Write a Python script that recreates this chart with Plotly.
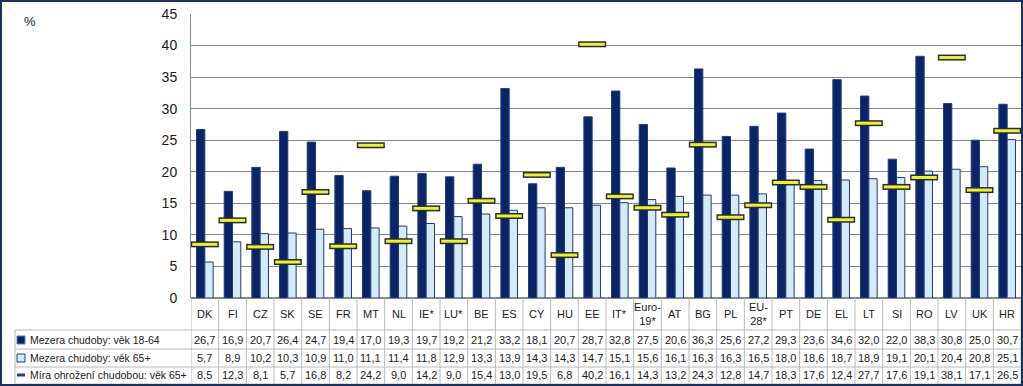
import plotly.graph_objects as go

categories = ["DK", "FI", "CZ", "SK", "SE", "FR", "MT", "NL", "IE*", "LU*", "BE", "ES", "CY", "HU", "EE",
              "IT*", "Euro-<br>19*", "AT", "BG", "PL", "EU-<br>28*", "PT", "DE", "EL", "LT", "SI", "RO", "LV", "UK", "HR"]
gap_18_64 = [26.7, 16.9, 20.7, 26.4, 24.7, 19.4, 17.0, 19.3, 19.7, 19.2, 21.2, 33.2, 18.1, 20.7, 28.7,
             32.8, 27.5, 20.6, 36.3, 25.6, 27.2, 29.3, 23.6, 34.6, 32.0, 22.0, 38.3, 30.8, 25.0, 30.7]
gap_65 = [5.7, 8.9, 10.2, 10.3, 10.9, 11.0, 11.1, 11.4, 11.8, 12.9, 13.3, 13.9, 14.3, 14.3, 14.7,
          15.1, 15.6, 16.1, 16.3, 16.3, 16.5, 18.0, 18.6, 18.7, 18.9, 19.1, 20.1, 20.4, 20.8, 25.1]
risk_65 = [8.5, 12.3, 8.1, 5.7, 16.8, 8.2, 24.2, 9.0, 14.2, 9.0, 15.4, 13.0, 19.5, 6.8, 40.2,
           16.1, 14.3, 13.2, 24.3, 12.8, 14.7, 18.3, 17.6, 12.4, 27.7, 17.6, 19.1, 38.1, 17.1, 26.5]
series_names = ["Mezera chudoby: věk 18-64", "Mezera chudoby: věk 65+", "Míra ohrožení chudobou: věk 65+"]

W, H = 1023, 386
ML, MR, MT, MB = 191, 2, 14, 88
PW = W - ML - MR
PH = H - MT - MB

def px_x(px):
    return (px - ML) / PW

def px_y(py):
    return (H - MB - py) / PH

NAVY = "#0c2466"
LIGHT = "#d3eaf9"
FONT = "Liberation Sans, Arial, sans-serif"
TXT = "#1a1a1a"
GRIDC = "#878787"
TABC = "#b8b8b8"

idx = list(range(len(categories)))

fig = go.Figure()
fig.add_trace(go.Bar(x=idx, y=gap_18_64, name=series_names[0], marker=dict(color=NAVY, line=dict(color="#1d3c86", width=1))))
fig.add_trace(go.Bar(x=idx, y=gap_65, name=series_names[1], marker=dict(color=LIGHT, line=dict(color="#243a6a", width=1))))
fig.add_trace(go.Scatter(x=idx, y=risk_65, mode="markers", name=series_names[2], showlegend=False,
                         marker=dict(symbol="line-ew", size=20, line=dict(color="#2b2b2b", width=6))))
fig.add_trace(go.Scatter(x=idx, y=risk_65, mode="markers", name=series_names[2], showlegend=False,
                         marker=dict(symbol="line-ew", size=18, line=dict(color="#e8f23c", width=3))))

annotations = []
shapes = []

# "%" label
annotations.append(dict(x=px_x(30), y=px_y(22), xref="paper", yref="paper", text="%", showarrow=False,
                        font=dict(family=FONT, size=13, color=TXT), xanchor="center", yanchor="middle"))

# table header row and value rows
row_y = [340, 358, 375]
rows = [gap_18_64, gap_65, risk_65]
for i, c in enumerate(categories):
    annotations.append(dict(x=i, y=px_y(314), xref="x", yref="paper", text=c, showarrow=False,
                            font=dict(family=FONT, size=11, color=TXT), xanchor="center", yanchor="middle"))
    for r, vals in enumerate(rows):
        annotations.append(dict(x=i, y=px_y(row_y[r]), xref="x", yref="paper",
                                text=f"{vals[i]:.1f}".replace(".", ","), showarrow=False,
                                font=dict(family=FONT, size=11, color=TXT), xanchor="center", yanchor="middle"))

for r, name in enumerate(series_names):
    annotations.append(dict(x=px_x(28), y=px_y(row_y[r]), xref="paper", yref="paper", text=name, showarrow=False,
                            font=dict(family=FONT, size=10.5, color=TXT), xanchor="left", yanchor="middle"))

# legend icons in table
shapes.append(dict(type="rect", xref="paper", yref="paper", x0=px_x(17), x1=px_x(25), y0=px_y(344), y1=px_y(336),
                   fillcolor=NAVY, line=dict(color="#5b7bbf", width=1)))
shapes.append(dict(type="rect", xref="paper", yref="paper", x0=px_x(17), x1=px_x(25), y0=px_y(362), y1=px_y(354),
                   fillcolor=LIGHT, line=dict(color="#2a3f6e", width=1)))
shapes.append(dict(type="line", xref="paper", yref="paper", x0=px_x(17), x1=px_x(25), y0=px_y(375), y1=px_y(375),
                   line=dict(color="#2a3f6e", width=3)))

# table grid
for yy in [330, 349, 367, 384]:
    shapes.append(dict(type="line", xref="paper", yref="paper", x0=px_x(15), x1=1, y0=px_y(yy), y1=px_y(yy),
                       line=dict(color=TABC, width=1)))
for i in range(len(categories) + 1):
    shapes.append(dict(type="line", xref="x", yref="paper", x0=i - 0.5, x1=i - 0.5, y0=0, y1=px_y(384),
                       line=dict(color=TABC, width=1)))
shapes.append(dict(type="line", xref="paper", yref="paper", x0=px_x(15), x1=px_x(15), y0=px_y(330), y1=px_y(384),
                   line=dict(color=TABC, width=1)))

# outer frame
shapes.append(dict(type="rect", xref="paper", yref="paper", x0=px_x(1), x1=px_x(1022), y0=px_y(385), y1=px_y(1),
                   line=dict(color="#1f2f55", width=2), fillcolor="rgba(0,0,0,0)"))

fig.update_layout(
    width=W, height=H,
    margin=dict(l=ML, r=MR, t=MT, b=MB),
    paper_bgcolor="white", plot_bgcolor="white",
    barmode="group", bargap=0.4, bargroupgap=0,
    showlegend=False,
    xaxis=dict(range=[-0.5, len(categories) - 0.5], showticklabels=False, showgrid=False, zeroline=False,
               showline=False, ticks=""),
    yaxis=dict(range=[0, 45], dtick=5, tick0=0, showgrid=True, gridcolor=GRIDC, gridwidth=1,
               showline=True, linecolor=GRIDC, linewidth=1, zeroline=True, zerolinecolor=GRIDC,
               ticks="", ticklabelstandoff=10, tickfont=dict(family=FONT, size=14, color=TXT)),
    annotations=annotations,
    shapes=shapes,
)

fig.write_html("out.html", config={"displayModeBar": False},
               post_script="document.body.style.margin='0';document.body.style.overflow='hidden';")
